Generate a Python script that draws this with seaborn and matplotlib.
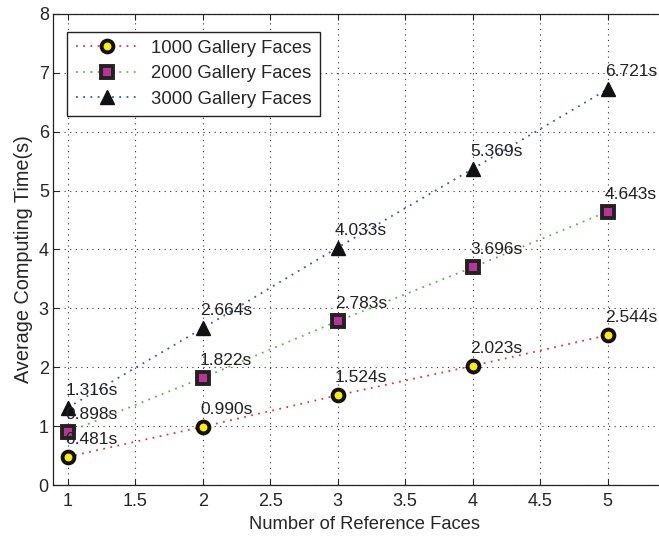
import numpy as np
import pandas as pd
import matplotlib
matplotlib.use("Agg")
import matplotlib.pyplot as plt
import seaborn as sns

# data
ref_faces = [1, 2, 3, 4, 5]
time_1000 = [0.481, 0.990, 1.524, 2.023, 2.544]
time_2000 = [0.898, 1.822, 2.783, 3.696, 4.643]
time_3000 = [1.316, 2.664, 4.033, 5.369, 6.721]
series_names = ["1000 Gallery Faces", "2000 Gallery Faces", "3000 Gallery Faces"]

sns.set_style("ticks")
plt.rcParams["font.family"] = ["Liberation Sans", "DejaVu Sans"]

fig = plt.figure(figsize=(6.59, 5.36), dpi=100)
ax = fig.add_axes([0.0804, 0.0951, 0.944, 0.879])

styles = [
    dict(color="#ee3333", marker="o", markerfacecolor="#ffee00", markeredgecolor="#111111",
         markersize=8.5, markeredgewidth=2.8),
    dict(color="#55bb33", marker="s", markerfacecolor="#bb3399", markeredgecolor="#222222",
         markersize=8.5, markeredgewidth=2.8),
    dict(color="#3355cc", marker="^", markerfacecolor="#111111", markeredgecolor="#111111",
         markersize=10, markeredgewidth=1),
]

for name, vals, st in zip(series_names, [time_1000, time_2000, time_3000], styles):
    df = pd.DataFrame({"x": ref_faces, "y": vals})
    sns.lineplot(data=df, x="x", y="y", ax=ax, linestyle=(0, (1, 3)), linewidth=1.3,
                 label=name, **st)
    for xv, yv in zip(ref_faces, vals):
        ax.annotate(f"{yv:.3f}s", (xv, yv), xytext=(-2, 12.5), textcoords="offset points",
                    ha="left", va="center", fontsize=12.5, color="#222222")

ax.set_xlim(0.889, 5.5)
ax.set_ylim(0, 8)
ax.set_xticks(np.arange(1, 5.01, 0.5))
ax.set_xticklabels(["1", "1.5", "2", "2.5", "3", "3.5", "4", "4.5", "5"])
ax.set_yticks(range(0, 9))
ax.tick_params(direction="in", top=True, right=True, labelsize=13, length=4)
ax.tick_params(axis="x", pad=6)
ax.tick_params(axis="y", pad=3)
ax.grid(True, linestyle=(0, (1, 4)), color="#333333", linewidth=0.8)
for s in ax.spines.values():
    s.set_color("#222222")
    s.set_linewidth(0.9)

ax.set_xlabel("Number of Reference Faces", fontsize=13.2, labelpad=4)
ax.set_ylabel("Average Computing Time(s)", fontsize=14.3)
ax.yaxis.set_label_coords(-0.032, 0.479)

leg = ax.legend(loc="upper left", bbox_to_anchor=(0.008, 0.982), fontsize=13.3,
                frameon=True, fancybox=False, edgecolor="#222222", framealpha=1,
                borderpad=0.45, handlelength=3.4, handletextpad=0.7, labelspacing=0.45)
leg.get_frame().set_linewidth(1.0)

fig.savefig("out.png", dpi=100)
